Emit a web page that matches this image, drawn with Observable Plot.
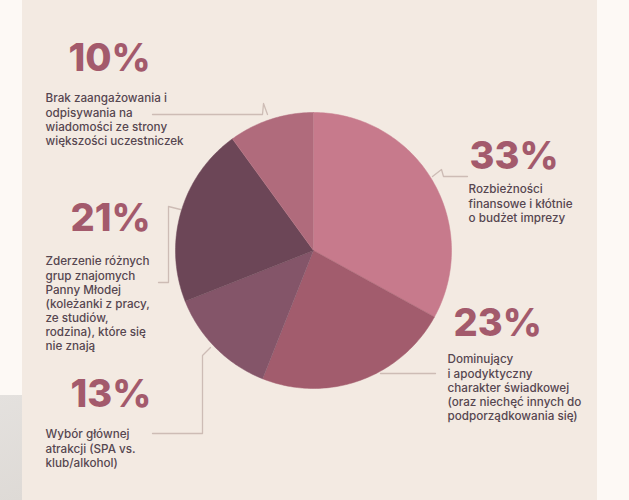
<!DOCTYPE html>
<html>
<head>
<meta charset="utf-8">
<script src="https://cdn.jsdelivr.net/npm/d3@7"></script>
<script src="https://cdn.jsdelivr.net/npm/@observablehq/plot@0.6"></script>
<style>
  html, body { margin: 0; padding: 0; }
  body { width: 629px; height: 500px; overflow: hidden; background: #fdf9f5; }
  #wrap { position: relative; width: 629px; height: 500px; }
  #panel { position: absolute; left: 22px; top: 0; width: 575px; height: 500px; background: #f3eae2; }
  #grey { position: absolute; left: 0; top: 395px; width: 22px; height: 105px; background: linear-gradient(160deg, #e4e1de 0%, #dedad6 100%); }
  #chart { position: absolute; left: 0; top: 0; }
</style>
</head>
<body>
<div id="wrap">
  <div id="panel"></div>
  <div id="grey"></div>
  <div id="chart"></div>
</div>
<script>
// ---- data ----
const categories = [
  "Rozbieżności finansowe i kłótnie o budżet imprezy",
  "Dominujący i apodyktyczny charakter świadkowej",
  "Wybór głównej atrakcji",
  "Zderzenie różnych grup znajomych",
  "Brak zaangażowania"
];
const values = [33, 23, 13, 21, 10];
const sliceColors = ["#c77a8c", "#a25c6d", "#845569", "#6c4657", "#b06b7c"];
const labelTexts = [
  "Rozbieżności\nfinansowe i kłótnie\no budżet imprezy",
  "Dominujący\ni apodyktyczny\ncharakter świadkowej\n(oraz niechęć innych do\npodporządkowania się)",
  "Wybór głównej\natrakcji (SPA vs.\nklub/alkohol)",
  "Zderzenie różnych\ngrup znajomych\nPanny Młodej\n(koleżanki z pracy,\nze studiów,\nrodzina), które się\nnie znają",
  "Brak zaangażowania i\nodpisywania na\nwiadomości ze strony\nwiększości uczestniczek"
];

// ---- layout (pixel anchors for annotations) ----
const CX = 313, CY = 250, R = 138;
const pctAnchors = [[469, 168], [453, 335], [70, 406], [70, 230], [68, 70]];
const labelAnchors = [[468, 183], [447, 353], [45, 428], [45, 255], [45, 92]];
const leaders = [
  [[467, 176], [443, 176], [441, 169], [432, 176]],
  [[380, 373], [435, 373]],
  [[210, 347], [202, 355], [202, 433], [152, 433]],
  [[180, 209], [168, 206], [168, 282], [158, 282]],
  [[152, 114], [262, 114], [263, 103], [267, 114]]
];
const toX = px => (px - CX) / R;
const toY = py => (CY - py) / R;

// ---- pie geometry (unit circle, angle clockwise from 12 o'clock) ----
const total = d3.sum(values);
const slicePts = [];
let start = 0;
values.forEach((v, i) => {
  const end = start + (v / total) * 2 * Math.PI;
  slicePts.push({cat: categories[i], x: 0, y: 0});
  const n = Math.max(2, Math.ceil((end - start) / (Math.PI / 180)));
  for (let k = 0; k <= n; k++) {
    const a = start + (end - start) * k / n;
    slicePts.push({cat: categories[i], x: Math.sin(a), y: Math.cos(a)});
  }
  start = end;
});

const leaderPts = leaders.flatMap((pts, i) => pts.map(([px, py]) => ({id: i, x: toX(px), y: toY(py)})));
const pctData = values.map((v, i) => ({t: v + "%", x: toX(pctAnchors[i][0]), y: toY(pctAnchors[i][1])}));
const labData = labelTexts.map((t, i) => ({t, x: toX(labelAnchors[i][0]), y: toY(labelAnchors[i][1])}));

const chart = Plot.plot({
  width: 629,
  height: 500,
  margin: 0,
  style: {background: "transparent", overflow: "visible"},
  x: {domain: [-1, 1], range: [CX - R, CX + R], axis: null},
  y: {domain: [-1, 1], range: [CY + R, CY - R], axis: null},
  color: {domain: categories, range: sliceColors},
  marks: [
    Plot.line(leaderPts, {x: "x", y: "y", z: "id", stroke: "#cdbcb5", strokeWidth: 1.3, curve: "linear"}),
    Plot.line(slicePts, {x: "x", y: "y", z: "cat", fill: "cat", stroke: "cat", strokeWidth: 0.5, curve: "linear"}),
    Plot.text(pctData, {x: "x", y: "y", text: "t", textAnchor: "start", lineAnchor: "bottom",
      fontSize: 38, fontWeight: 800, fill: "#a35a6c", fontFamily: "Inter"}),
    Plot.text(labData, {x: "x", y: "y", text: "t", textAnchor: "start", lineAnchor: "top",
      fontSize: 11.7, fontWeight: 500, lineHeight: 1.2, fill: "#564650", fontFamily: "Inter"})
  ]
});
document.getElementById("chart").appendChild(chart);
</script>
</body>
</html>
